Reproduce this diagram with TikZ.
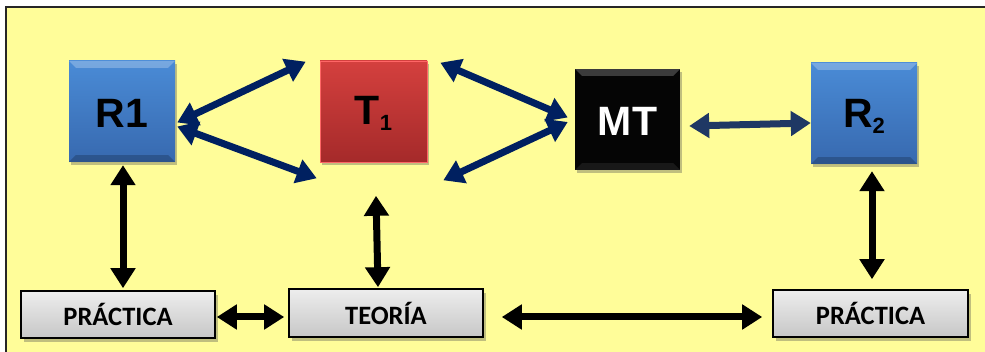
\documentclass[tikz,border=0pt]{standalone}
\usepackage{fontspec}
\setmainfont{Liberation Sans}
\newfontfamily\calib{Carlito}
\usetikzlibrary{arrows.meta,shadows,calc}
\definecolor{bgyellow}{RGB}{255,253,153}
\definecolor{navy}{RGB}{0,32,96}
\definecolor{slate}{RGB}{31,56,100}
\definecolor{bluetop}{RGB}{74,139,214}
\definecolor{bluebot}{RGB}{55,105,175}
\definecolor{redtop}{RGB}{212,64,62}
\definecolor{redbot}{RGB}{165,42,42}
\tikzset{
  sq/.style={minimum width=106pt,minimum height=101pt,inner sep=0pt,
    drop shadow={shadow xshift=2pt,shadow yshift=-3pt,opacity=0.35,fill=black!70}},
  bluesq/.style={sq,top color=bluetop,bottom color=bluebot},
  redsq/.style={sq,top color=redtop,bottom color=redbot,draw=red!60!white,line width=0.6pt},
  blacksq/.style={sq,fill=black!98},
  lab/.style={font=\fontsize{41}{41}\selectfont\bfseries},
  gbox/.style={minimum width=194pt,minimum height=47pt,inner sep=0pt,draw=black,line width=1.6pt,
    top color=white!93!black,bottom color=black!22,
    drop shadow={shadow xshift=3pt,shadow yshift=-4pt,opacity=0.35,fill=black!70},
    font=\calib\fontsize{26.5}{26.5}\selectfont\bfseries},
  narr/.style={draw=navy,line width=7pt,{Triangle[length=20pt,width=24pt]}-{Triangle[length=20pt,width=24pt]}},
  sarr/.style={draw=slate,line width=7pt,{Triangle[length=20pt,width=24pt]}-{Triangle[length=20pt,width=24pt]}},
  barr/.style={draw=black,line width=7pt,{Triangle[length=20pt,width=24pt]}-{Triangle[length=20pt,width=24pt]}},
}
\newcommand{\bevel}[3]{%
  \fill[#2] (#1.north west) -- (#1.north east) -- ($(#1.north east)+(-7,7)$) -- ($(#1.north west)+(7,7)$) -- cycle;
  \fill[#3] (#1.south west) -- (#1.south east) -- ($(#1.south east)+(-7,-7)$) -- ($(#1.south west)+(7,-7)$) -- cycle;
}
\begin{document}
\begin{tikzpicture}[x=1pt,y=-1pt]
\useasboundingbox (0,0) rectangle (985,352);
\fill[white] (0,0) rectangle (985,352);
\fill[bgyellow] (6,7) rectangle (990,360);
\draw[line width=1.8pt,black!85] (6,360) -- (6,7) -- (990,7);

\node[bluesq] (R1) at (122,111.5) {};
\bevel{R1}{white,opacity=0.25}{black,opacity=0.2}
\node[lab] at ($(R1)+(0,2)$) {R1};

\node[redsq,minimum width=107pt] (T1) at (373.5,111.5) {};
\node[lab] at ($(T1)+(0,2)$) {T\raisebox{-6pt}{\fontsize{22}{22}\selectfont 1}};

\node[blacksq,minimum width=105pt] (MT) at (627.5,119.5) {};
\bevel{MT}{white,opacity=0.22}{white,opacity=0.08}
\node[lab,text=white] at ($(MT)+(0,2)$) {MT};

\node[bluesq] (R2) at (864,113.5) {};
\bevel{R2}{white,opacity=0.25}{black,opacity=0.2}
\node[lab] at ($(R2)+(0,3)$) {R\raisebox{-6pt}{\fontsize{22}{22}\selectfont 2}};

\node[gbox] (P1) at (118,314.5) {PRÁCTICA};
\node[gbox,minimum height=48pt] (TE) at (386,313) {TEORÍA};
\node[gbox,minimum width=195pt] (P2) at (870.5,313.5) {PRÁCTICA};

% navy arrows
\draw[narr] ($(R1.east)+(2,11)$) -- ($(T1.north west)+(-14,1)$);
\draw[narr] ($(R1.east)+(2,15)$) -- ($(T1.south west)+(-3,16)$);
\draw[narr] ($(T1.north east)+(13,2)$) -- ($(MT.west)+(-7,-2)$);
\draw[narr] ($(T1.south east)+(16,18)$) -- ($(MT.west)+(-7,2.5)$);
\draw[sarr] ($(MT.east)+(9,6.5)$) -- ($(R2.west)+(0,9.5)$);

% black arrows
\draw[barr] ($(R1.south)+(1,3)$) -- ($(P1.north)+(5,-2)$);
\draw[barr] ($(T1.south)+(2.5,33.5)$) -- ($(TE.north)+(-8,-1)$);
\draw[barr] ($(R2.south)+(8,7)$) -- ($(P2.north)+(1.5,-10)$);
\draw[barr] ($(P1.east)+(1,2.5)$) -- ($(TE.west)+(-4,4)$);
\draw[barr] ($(TE.east)+(18,4)$) -- ($(P2.west)+(-10,3.5)$);
\end{tikzpicture}
\end{document}
